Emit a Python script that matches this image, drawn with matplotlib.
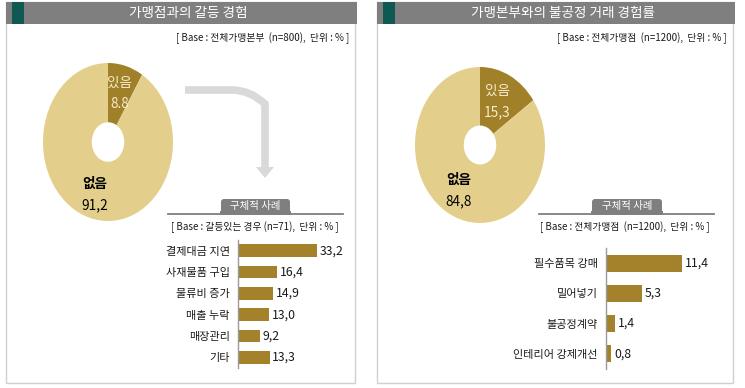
import matplotlib
matplotlib.use("Agg")
import matplotlib.pyplot as plt
from matplotlib.patches import Rectangle, FancyBboxPatch, Polygon, PathPatch
from matplotlib.path import Path

plt.rcParams['font.family'] = ['Noto Sans CJK KR', 'DejaVu Sans']

# ---------------- data ----------------
left_title = '가맹점과의 갈등 경험'
left_base = '[ Base : 전체가맹본부  (n=800),  단위 : % ]'
left_pie_labels = ['있음', '없음']
left_pie_values = [8.8, 91.2]
left_bar_base = '[ Base : 갈등있는 경우 (n=71),  단위 : % ]'
left_bar_cats = ['결제대금 지연', '사재물품 구입', '물류비 증가', '매출 누락', '매장관리', '기타']
left_bar_vals = [33.2, 16.4, 14.9, 13.0, 9.2, 13.3]

right_title = '가맹본부와의 불공정 거래 경험률'
right_base = '[ Base : 전체가맹점  (n=1200),  단위 : % ]'
right_pie_labels = ['있음', '없음']
right_pie_values = [15.3, 84.8]
right_bar_base = '[ Base : 전체가맹점  (n=1200),  단위 : % ]'
right_bar_cats = ['필수품목 강매', '밀어넣기', '불공정계약', '인테리어 강제개선']
right_bar_vals = [11.4, 5.3, 1.4, 0.8]

sub_title = '구체적 사례'

# ---------------- style ----------------
W, H = 745, 388
C_LIGHT = '#e3cf8b'
C_DARK = '#a1802a'
C_BAR = '#a3822b'
C_TITLE = '#7f7f7f'
C_ACCENT = '#0e5a52'
C_BORDER = '#d0d0d0'
C_TEXT = '#1a1a1a'
C_CREAM = '#f6edc9'

fig = plt.figure(figsize=(W / 100, H / 100), dpi=100)
fig.patch.set_facecolor('white')

ov = fig.add_axes([0, 0, 1, 1])
ov.set_xlim(0, W)
ov.set_ylim(H, 0)
ov.axis('off')
ov.set_facecolor('none')
ov.set_zorder(10)


def px_axes(x0, y0, x1, y1):
    ax = fig.add_axes([x0 / W, 1 - y1 / H, (x1 - x0) / W, (y1 - y0) / H])
    ax.set_facecolor('none')
    return ax


def fmt(v, sep=','):
    return f'{v:.1f}'.replace('.', sep)


def panel(x0, x1, title, base):
    ov.add_patch(Rectangle((x0, 2), x1 - x0, 381, fill=False, ec=C_BORDER, lw=1.0))
    ov.add_patch(Rectangle((x0, 2), x1 - x0 + 2, 22, fc=C_TITLE, ec='none'))
    ov.add_patch(Rectangle((x0 + 6, 2), 12, 22, fc=C_ACCENT, ec='none'))
    ov.text((x0 + x1) / 2 + 8, 13.5, title, color='white', fontsize=9.8,
            ha='center', va='center')
    ov.text(x1 - 6, 38, base, color=C_TEXT, fontsize=7, ha='right', va='center')


def donut(cx, cy, rx, ry, values, labels, sep_small, pos_small, pos_big):
    ax = px_axes(cx - rx, cy - ry, cx + rx, cy + ry)
    ax.pie(values, colors=[C_DARK, C_LIGHT], startangle=90, counterclock=False,
           radius=1.0, wedgeprops=dict(width=0.75, edgecolor='none'))
    ax.set_aspect('auto')
    ax.set_xlim(-1, 1)
    ax.set_ylim(-1, 1)
    ax.axis('off')
    ov.text(pos_small[0], pos_small[1], labels[0], color=C_CREAM, fontsize=9.8,
            fontweight='medium', ha='center', va='center')
    ov.text(pos_small[0], pos_small[1] + 21, fmt(values[0], sep_small), color=C_CREAM,
            fontsize=9.8, fontweight='medium', ha='center', va='center')
    ov.text(pos_big[0], pos_big[1], labels[1], color='black', fontsize=9.8,
            fontweight='bold', ha='center', va='center')
    ov.text(pos_big[0], pos_big[1] + 21, fmt(values[1]), color='black', fontsize=9.8,
            fontweight='medium', ha='center', va='center')


def sub_header(lx0, lx1, tx0, tx1, base):
    ov.add_patch(FancyBboxPatch((tx0, 199), tx1 - tx0, 16,
                                boxstyle='round,pad=0,rounding_size=3',
                                fc=C_TITLE, ec='none'))
    ov.add_patch(Rectangle((tx0 - 1, 211), tx1 - tx0 + 2, 4, fc=C_TITLE, ec='none'))
    ov.plot([lx0, lx1], [213.5, 213.5], color=C_TITLE, lw=1.3)
    ov.text((tx0 + tx1) / 2, 206, sub_title, color='white', fontsize=7.5,
            ha='center', va='center')
    ov.text(lx1 - 4, 227, base, color=C_TEXT, fontsize=7, ha='right', va='center')


def bars(x0, y0, x1, y1, cats, vals, xmax, height):
    ax = px_axes(x0, y0, x1, y1)
    n = len(cats)
    ys = list(range(n))
    ax.barh(ys, vals, height=height, color=C_BAR, edgecolor='none')
    ax.set_ylim(n - 0.5, -0.5)
    ax.set_xlim(0, xmax)
    for s in ['top', 'right', 'bottom']:
        ax.spines[s].set_visible(False)
    ax.spines['left'].set_color('#9a9a9a')
    ax.spines['left'].set_linewidth(1.0)
    ax.set_xticks([])
    ax.set_yticks(ys)
    ax.set_yticklabels(cats, fontsize=8, color=C_TEXT, fontweight='medium')
    ax.tick_params(axis='y', length=0, pad=6)
    for y, v in zip(ys, vals):
        ax.text(v + xmax * 0.025, y, fmt(v), va='center', ha='left',
                fontsize=8.8, color=C_TEXT)
    return ax


# ---------------- left panel ----------------
panel(6, 355, left_title, left_base)
donut(108, 142, 65, 79, left_pie_values, left_pie_labels, '.', (120, 83), (95, 184))

# curved arrow
verts = [(185, 90), (232, 90), (250, 90), (265, 104), (265, 125), (265, 168)]
codes = [Path.MOVETO, Path.LINETO, Path.CURVE3, Path.CURVE3, Path.LINETO, Path.LINETO]
ov.add_patch(PathPatch(Path(verts, codes), fill=False, ec='#d9d9d9', lw=5.5,
                       capstyle='butt', joinstyle='miter'))
ov.add_patch(Polygon([(256, 167), (274, 167), (265, 178)], closed=True,
                     fc='#d9d9d9', ec='none'))

sub_header(168, 343, 221, 290, left_bar_base)
bars(238, 240, 345, 368, left_bar_cats, left_bar_vals, 45.0, 0.58)

# ---------------- right panel ----------------
panel(377, 733, right_title, right_base)
donut(480, 145, 65, 78, right_pie_values, right_pie_labels, ',', (497, 91), (459, 180))

sub_header(539, 714, 592, 662, right_bar_base)
bars(606, 248, 720, 369, right_bar_cats, right_bar_vals, 17.0, 0.56)

fig.savefig('out.png', dpi=100, facecolor='white')
